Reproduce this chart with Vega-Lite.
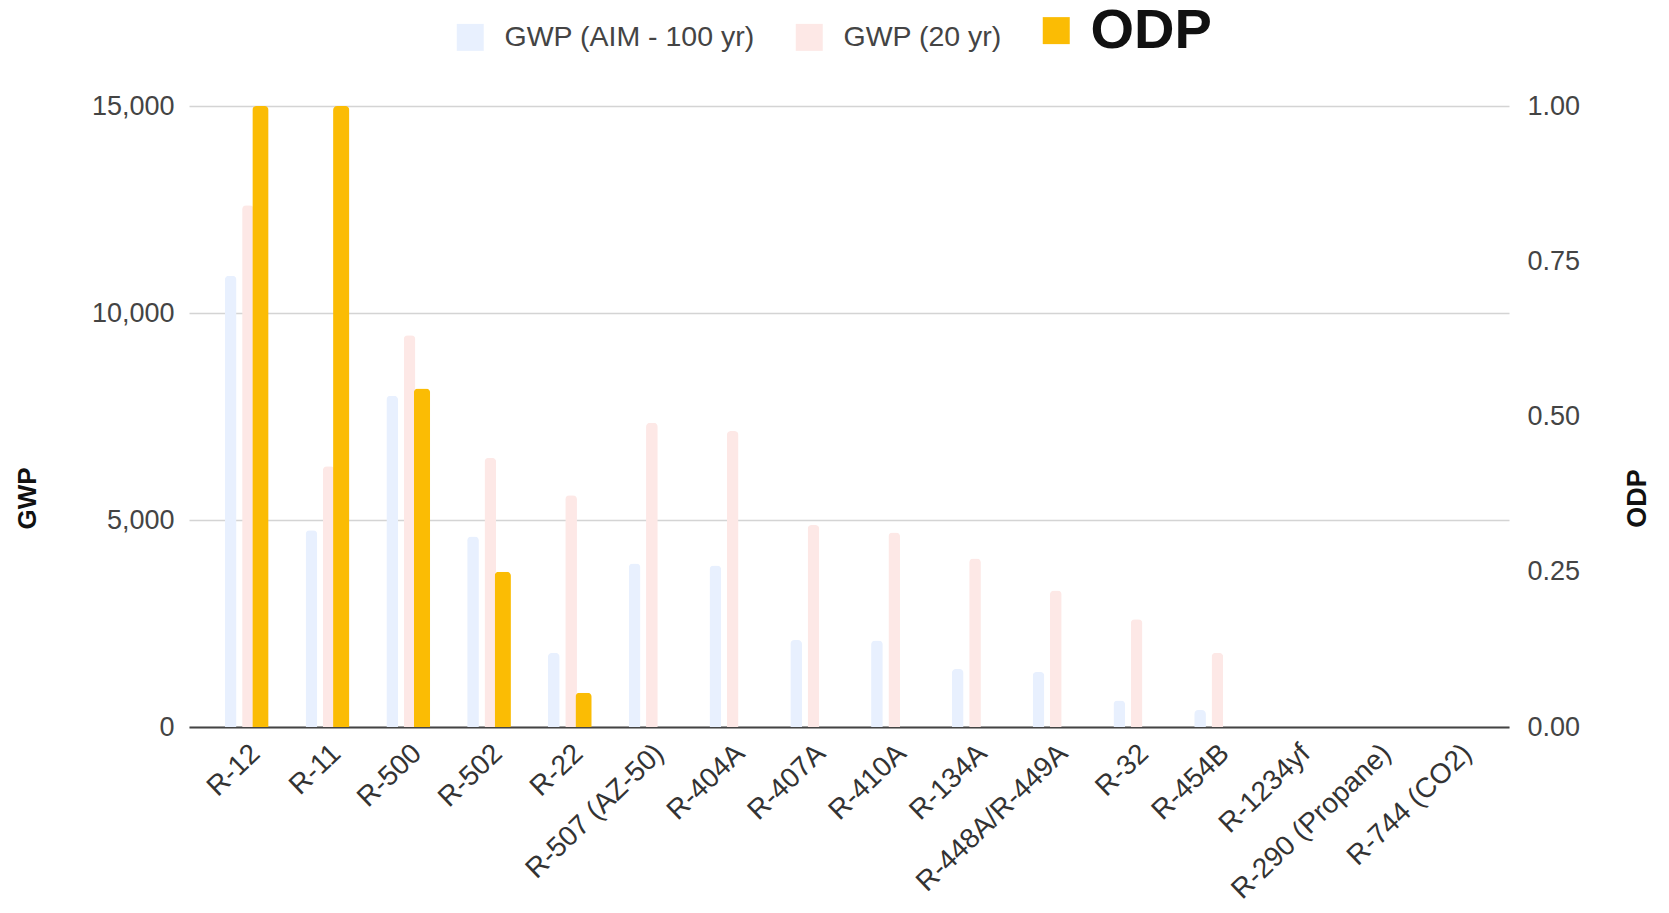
{
  "$schema": "https://vega.github.io/schema/vega-lite/v6.json",
  "width": 1320,
  "height": 621,
  "autosize": {"type": "none"},
  "padding": {"left": 189, "top": 106, "right": 160, "bottom": 186},
  "config": {"view": {"stroke": null}, "font": "Liberation Sans"},
  "data": {
    "values": [
      {"refrigerant": "R-12", "series": "GWP (AIM - 100 yr)", "value": 10900},
      {"refrigerant": "R-12", "series": "GWP (20 yr)", "value": 12600},
      {"refrigerant": "R-12", "series": "ODP", "value": 1},
      {"refrigerant": "R-11", "series": "GWP (AIM - 100 yr)", "value": 4750},
      {"refrigerant": "R-11", "series": "GWP (20 yr)", "value": 6300},
      {"refrigerant": "R-11", "series": "ODP", "value": 1},
      {"refrigerant": "R-500", "series": "GWP (AIM - 100 yr)", "value": 8000},
      {"refrigerant": "R-500", "series": "GWP (20 yr)", "value": 9460},
      {"refrigerant": "R-500", "series": "ODP", "value": 0.545},
      {"refrigerant": "R-502", "series": "GWP (AIM - 100 yr)", "value": 4600},
      {"refrigerant": "R-502", "series": "GWP (20 yr)", "value": 6500},
      {"refrigerant": "R-502", "series": "ODP", "value": 0.25},
      {"refrigerant": "R-22", "series": "GWP (AIM - 100 yr)", "value": 1790},
      {"refrigerant": "R-22", "series": "GWP (20 yr)", "value": 5600},
      {"refrigerant": "R-22", "series": "ODP", "value": 0.055},
      {"refrigerant": "R-507 (AZ-50)", "series": "GWP (AIM - 100 yr)", "value": 3950},
      {"refrigerant": "R-507 (AZ-50)", "series": "GWP (20 yr)", "value": 7350},
      {"refrigerant": "R-507 (AZ-50)", "series": "ODP", "value": 0},
      {"refrigerant": "R-404A", "series": "GWP (AIM - 100 yr)", "value": 3900},
      {"refrigerant": "R-404A", "series": "GWP (20 yr)", "value": 7150},
      {"refrigerant": "R-404A", "series": "ODP", "value": 0},
      {"refrigerant": "R-407A", "series": "GWP (AIM - 100 yr)", "value": 2100},
      {"refrigerant": "R-407A", "series": "GWP (20 yr)", "value": 4880},
      {"refrigerant": "R-407A", "series": "ODP", "value": 0},
      {"refrigerant": "R-410A", "series": "GWP (AIM - 100 yr)", "value": 2090},
      {"refrigerant": "R-410A", "series": "GWP (20 yr)", "value": 4700},
      {"refrigerant": "R-410A", "series": "ODP", "value": 0},
      {"refrigerant": "R-134A", "series": "GWP (AIM - 100 yr)", "value": 1400},
      {"refrigerant": "R-134A", "series": "GWP (20 yr)", "value": 4070},
      {"refrigerant": "R-134A", "series": "ODP", "value": 0},
      {"refrigerant": "R-448A/R-449A", "series": "GWP (AIM - 100 yr)", "value": 1330},
      {"refrigerant": "R-448A/R-449A", "series": "GWP (20 yr)", "value": 3300},
      {"refrigerant": "R-448A/R-449A", "series": "ODP", "value": 0},
      {"refrigerant": "R-32", "series": "GWP (AIM - 100 yr)", "value": 640},
      {"refrigerant": "R-32", "series": "GWP (20 yr)", "value": 2600},
      {"refrigerant": "R-32", "series": "ODP", "value": 0},
      {"refrigerant": "R-454B", "series": "GWP (AIM - 100 yr)", "value": 410},
      {"refrigerant": "R-454B", "series": "GWP (20 yr)", "value": 1790},
      {"refrigerant": "R-454B", "series": "ODP", "value": 0},
      {"refrigerant": "R-1234yf", "series": "GWP (AIM - 100 yr)", "value": 1},
      {"refrigerant": "R-1234yf", "series": "GWP (20 yr)", "value": 1},
      {"refrigerant": "R-1234yf", "series": "ODP", "value": 0},
      {"refrigerant": "R-290 (Propane)", "series": "GWP (AIM - 100 yr)", "value": 3},
      {"refrigerant": "R-290 (Propane)", "series": "GWP (20 yr)", "value": 3},
      {"refrigerant": "R-290 (Propane)", "series": "ODP", "value": 0},
      {"refrigerant": "R-744 (CO2)", "series": "GWP (AIM - 100 yr)", "value": 1},
      {"refrigerant": "R-744 (CO2)", "series": "GWP (20 yr)", "value": 1},
      {"refrigerant": "R-744 (CO2)", "series": "ODP", "value": 0}
    ]
  },
  "encoding": {
    "x": {
      "field": "refrigerant",
      "type": "nominal",
      "sort": null,
      "scale": {"paddingInner": 0.37, "paddingOuter": 0.355},
      "axis": {
        "title": null,
        "labelAngle": -44,
        "labelAlign": "right",
        "labelBaseline": "top",
        "labelFontSize": 28,
        "labelColor": "#333",
        "labelPadding": 12,
        "labelOffset": 3,
        "ticks": false,
        "domainColor": "#444",
        "domainWidth": 2,
        "labelLimit": 400
      }
    },
    "xOffset": {
      "field": "series",
      "type": "nominal",
      "scale": {"domain": ["GWP (AIM - 100 yr)", "GWP (20 yr)", "ODP"], "paddingInner": 0.06, "paddingOuter": 0}
    },
    "color": {
      "field": "series",
      "type": "nominal",
      "scale": {"domain": ["GWP (AIM - 100 yr)", "GWP (20 yr)", "ODP"], "range": ["#e8f0fe", "#fde8e6", "#fbbc04"]},
      "legend": {
        "orient": "none",
        "legendX": 267,
        "legendY": -90,
        "direction": "horizontal",
        "title": null,
        "symbolType": "square",
        "symbolSize": 729,
        "symbolStrokeWidth": 0,
        "symbolOpacity": 1,
        "labelFontSize": {"expr": "datum.value == 'ODP' ? 56 : 28.5"},
        "labelFontWeight": {"expr": "datum.value == 'ODP' ? 'bold' : 'normal'"},
        "labelColor": {"expr": "datum.value == 'ODP' ? '#111' : '#444'"},
        "labelOffset": 20,
        "columnPadding": 40,
        "labelLimit": 400
      }
    }
  },
  "layer": [
    {
      "transform": [{"filter": "datum.series != 'ODP'"}],
      "mark": {"type": "bar", "width": {"band": 0.72}, "cornerRadiusTopLeft": 4, "cornerRadiusTopRight": 4},
      "encoding": {
        "y": {
          "field": "value",
          "type": "quantitative",
          "scale": {"domain": [0, 15000], "nice": false},
          "axis": {
            "title": "GWP",
            "orient": "left",
            "values": [0, 5000, 10000, 15000],
            "format": ",.0f",
            "domain": false,
            "ticks": false,
            "labelPadding": 15,
            "labelFontSize": 27,
            "labelColor": "#444",
            "gridColor": "#d4d4d4",
            "gridWidth": 1.5,
            "titleFontSize": 26,
            "titleFontWeight": "bold",
            "titleColor": "#111",
            "titleAngle": 270,
            "titleBaseline": "middle",
            "titleX": -162,
            "titleY": 392
          }
        }
      }
    },
    {
      "transform": [{"filter": "datum.series == 'ODP'"}],
      "mark": {"type": "bar", "width": {"band": 1}, "cornerRadiusTopLeft": 4, "cornerRadiusTopRight": 4},
      "encoding": {
        "y": {
          "field": "value",
          "type": "quantitative",
          "scale": {"domain": [0, 1], "nice": false},
          "axis": {
            "title": "ODP",
            "orient": "right",
            "values": [0, 0.25, 0.5, 0.75, 1],
            "format": ".2f",
            "grid": false,
            "domain": false,
            "ticks": false,
            "labelPadding": 18,
            "labelFontSize": 27,
            "labelColor": "#444",
            "titleFontSize": 27,
            "titleFontWeight": "bold",
            "titleColor": "#111",
            "titleAngle": 270,
            "titleBaseline": "middle",
            "titleX": 128,
            "titleY": 392
          }
        }
      }
    }
  ],
  "resolve": {"scale": {"y": "independent"}}
}
